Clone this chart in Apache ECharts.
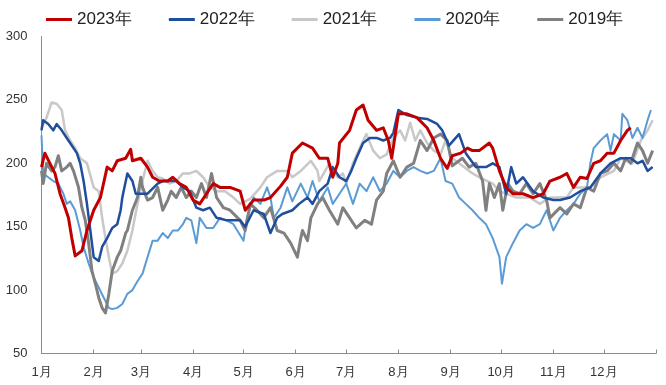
<!DOCTYPE html>
<html><head><meta charset="utf-8">
<script src="https://cdn.jsdelivr.net/npm/echarts@6/dist/echarts.min.js"></script>
<style>html,body{margin:0;padding:0;background:#fff}#c{width:666px;height:385px}</style>
</head><body><div id="c"></div>
<script>
const seriesNames = ['2023年','2022年','2021年','2020年','2019年'];
const monthStarts = [0,31,59,90,120,151,181,212,243,273,304,334,365];
const monthLabels = ['1月','2月','3月','4月','5月','6月','7月','8月','9月','10月','11月','12月'];
const yTicks = [50,100,150,200,250,300];

const days2023 = [0,2,5,8,11,14,16,18,20,24,27,31,35,39,42,45,50,53,54,59,63,66,70,75,78,82,86,90,94,98,102,106,112,118,121,126,132,136,142,146,149,155,161,165,170,173,176,177,183,187,191,194,199,203,206,208,212,217,223,229,233,237,241,244,249,253,256,260,266,268,272,276,280,286,292,298,302,308,312,316,320,324,328,332,336,340,344,348,350];
const vals2023 = [197,208,200,192,176,165,157,141,127,131,147,163,173,197,194,202,204,211,202,204,197,189,186,186,189,184,181,171,168,176,184,181,181,178,163,171,171,173,182,189,208,216,212,204,204,189,200,216,226,242,246,234,226,228,218,204,239,239,236,228,218,204,196,206,208,212,210,210,216,212,194,181,176,176,173,176,186,189,192,181,189,188,200,202,208,208,218,226,228];

const days2022 = [0,1,4,7,9,12,15,18,21,23,25,27,29,31,34,36,39,42,45,47,48,51,54,56,59,63,66,69,72,76,80,84,88,92,96,100,104,110,118,121,126,132,136,140,143,149,153,158,161,165,170,173,177,181,184,187,191,195,199,203,207,209,212,217,223,229,235,238,242,248,252,258,264,268,272,276,279,282,286,292,298,304,308,314,320,326,332,338,344,350,354,357,360,363];
const vals2022 = [226,234,231,226,231,226,220,214,208,200,186,168,147,126,123,134,141,149,152,163,173,192,186,176,176,176,180,184,186,186,186,181,178,165,163,165,157,155,155,150,163,160,145,157,160,163,168,173,168,178,184,197,189,186,194,204,216,220,220,218,220,224,242,238,236,235,231,226,214,223,208,197,197,200,197,176,197,184,189,178,173,171,171,173,178,181,192,200,204,204,200,202,194,197];

const days2021 = [0,3,6,9,12,14,17,20,23,27,31,34,36,38,40,42,45,48,51,54,57,60,63,66,69,72,76,80,84,88,92,96,100,104,109,114,118,124,130,134,140,146,149,154,160,164,165,171,176,179,181,185,189,193,197,201,205,209,213,216,219,222,225,229,233,237,240,244,248,256,260,268,272,282,290,296,302,312,316,326,332,340,344,351,356,360,363];
const vals2021 = [228,236,248,247,242,226,218,212,204,200,181,178,157,141,126,113,115,121,131,147,168,186,202,194,189,188,184,186,192,192,194,189,181,178,178,173,168,172,181,189,194,194,189,194,202,194,186,200,189,192,184,200,212,223,210,204,207,220,226,218,232,218,226,216,210,207,218,204,200,192,189,184,178,173,173,168,173,173,181,181,189,194,204,200,218,226,234];

const days2020 = [0,1,4,7,10,13,15,17,20,23,25,28,31,34,37,40,42,45,48,51,54,57,60,63,66,69,72,75,78,81,84,86,89,92,94,98,102,106,110,114,120,122,126,130,134,136,138,142,146,149,154,158,161,165,170,173,177,181,185,189,193,197,201,205,209,213,217,221,225,229,233,237,240,244,248,252,256,260,264,268,272,273.5,276,280,284,288,292,296,300,304,308,312,316,320,324,326,328,332,336,338,340,344,345,348,351,354,357,360,362];
const vals2020 = [222,192,189,186,184,176,168,170,163,147,134,121,110,102,94,86,85,86,89,97,100,107,113,126,139,139,145,141,147,147,152,157,155,137,157,149,149,157,155,152,139,157,173,168,181,173,157,165,181,170,184,173,186,170,181,168,176,184,168,184,178,189,178,184,194,189,194,197,194,192,194,204,186,184,173,168,163,157,152,141,126,105,126,137,147,152,149,152,163,147,157,163,168,176,181,200,212,218,223,210,223,218,239,234,220,228,220,234,242];

const days2019 = [0,1,3,6,8,10,12,15,17,19,22,24,26,28,30,32,34,36,38,40,42,45,47,50,51,54,57,59,60,63,66,69,72,75,77,80,83,86,89,92,95,98,101,104,108,112,118,121,124,128,132,136,140,144,148,152,154,155,158,160,164,167,171,176,179,183,187,192,196,199,203,205,209,213,217,221,225,229,233,237,241,244,250,254,258,262,264,266,269,272,274,277,280,284,288,292,296,300,302,308,312,316,320,324,328,332,336,340,344,347,350,354,357,360,363];
const vals2019 = [194,184,200,194,197,206,194,197,200,194,181,165,155,137,115,105,94,86,82,97,115,126,131,145,147,163,173,189,181,171,173,181,163,171,178,173,181,173,178,173,184,173,192,173,165,163,155,147,168,163,157,165,147,145,137,126,141,147,139,157,168,173,163,152,165,157,149,155,152,171,178,192,202,189,197,200,218,210,220,223,218,198,204,197,200,186,163,184,173,184,163,184,178,176,184,176,184,171,157,165,160,168,165,181,178,192,194,200,194,204,200,216,210,200,210];

function zip(d, v) { return d.map((x, i) => [x, v[i]]); }

const colors = ['#C00000', '#1F4E9E', '#C8C8C8', '#5B9BD5', '#808080'];
const widths = [3, 2.5, 2.5, 2, 3];
const zs = [10, 8, 3, 4, 5];
const dataSets = [zip(days2023, vals2023), zip(days2022, vals2022), zip(days2021, vals2021), zip(days2020, vals2020), zip(days2019, vals2019)];

const chart = echarts.init(document.getElementById('c'), null, {renderer: 'canvas'});
chart.setOption({
  animation: false,
  backgroundColor: '#fff',
  color: colors,
  legend: {
    top: 6, left: 41, itemGap: 37, itemWidth: 26, itemHeight: 3, icon: 'rect',
    textStyle: {fontSize: 17, color: '#222', fontFamily: 'Liberation Sans'},
    data: seriesNames
  },
  grid: {left: 41.5, right: 10, top: 36.5, bottom: 31.5, containLabel: false},
  xAxis: {
    type: 'value', min: 0, max: 365,
    splitLine: {show: false},
    axisLine: {show: true, lineStyle: {color: '#8c8c8c', width: 1}},
    axisTick: {show: true, inside: true, length: 4, lineStyle: {color: '#8c8c8c'}, customValues: monthStarts},
    axisLabel: {
      customValues: monthStarts.slice(0, 12),
      formatter: v => monthLabels[monthStarts.indexOf(v)],
      fontSize: 13, color: '#333', margin: 12, fontFamily: 'Liberation Sans'
    }
  },
  yAxis: {
    type: 'value', min: 50, max: 300, interval: 50,
    splitLine: {show: false},
    axisLine: {show: true, lineStyle: {color: '#8c8c8c', width: 1}},
    axisTick: {show: false},
    axisLabel: {fontSize: 13, color: '#333', margin: 14, fontFamily: 'Liberation Sans',
      formatter: v => yTicks.includes(v) ? String(v) : ''}
  },
  series: seriesNames.map((n, i) => ({
    name: n, type: 'line', data: dataSets[i], symbol: 'none', z: zs[i],
    lineStyle: {width: widths[i], color: colors[i], join: 'round'},
    itemStyle: {color: colors[i]}
  }))
});
</script></body></html>
